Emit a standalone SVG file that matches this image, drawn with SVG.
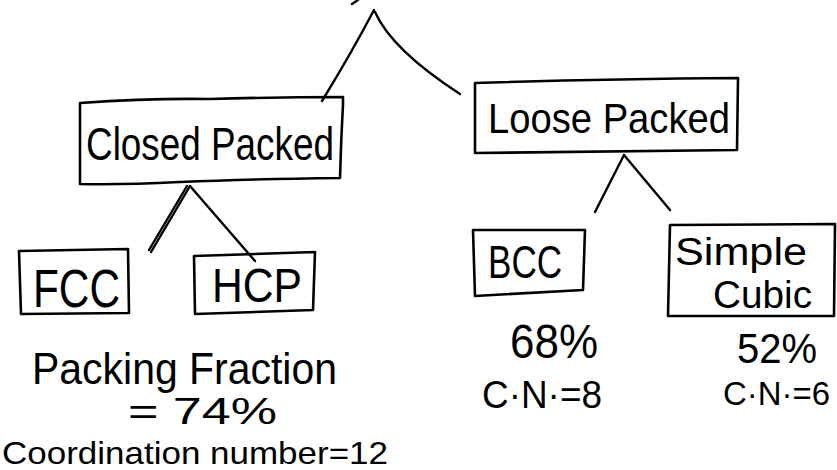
<svg xmlns="http://www.w3.org/2000/svg" width="837" height="470" viewBox="0 0 837 470">
<style>
.box{fill:none;stroke:#000;stroke-width:2.6;stroke-linejoin:round;stroke-linecap:round}
.ln{fill:none;stroke:#000;stroke-width:2.4;stroke-linecap:round}
.t{font-family:"Liberation Sans","DejaVu Sans",sans-serif;fill:#000}
</style>
<rect width="837" height="470" fill="#fff"/>
<g id="connectors">
<path class="ln" d="M352,4 L358,0"/>
<path class="ln" d="M374,10 Q352,52 322,101"/>
<path class="ln" d="M375,12 Q392,50 460,94"/>
<path class="ln" d="M190,186 L151,252"/>
<path class="ln" d="M187,186 L149,250"/>
<path class="ln" d="M190,186 L255,261"/>
<path class="ln" d="M624,155 L595,212"/>
<path class="ln" d="M624,155 L670,210"/>
</g>
<g id="closed-packed">
<path class="box" d="M80,103 Q150,98 210,99 Q280,97 343,97 L343,104 Q341,140 340,178 Q250,179 180,182 Q120,185 80,184 Z"/>
<text class="t" x="86" y="160" font-size="46" textLength="248" lengthAdjust="spacingAndGlyphs">Closed Packed</text>
</g>
<g id="loose-packed">
<path class="box" d="M475,83 Q600,79 738,78 L737,150 Q600,151 475,153 Z"/>
<text class="t" x="488" y="133" font-size="42" textLength="242" lengthAdjust="spacingAndGlyphs">Loose Packed</text>
</g>
<g id="fcc">
<path class="box" d="M19,251 L128,249 L129,313 L21,314 Z"/>
<text class="t" x="33" y="307" font-size="54" textLength="87" lengthAdjust="spacingAndGlyphs">FCC</text>
</g>
<g id="hcp">
<path class="box" d="M194,256 L315,252 L313,310 L195,314 Z"/>
<text class="t" x="212" y="302" font-size="48" textLength="90" lengthAdjust="spacingAndGlyphs">HCP</text>
</g>
<g id="bcc">
<path class="box" d="M473,230 L585,230 L583,290 L475,296 Z"/>
<text class="t" x="488" y="278" font-size="46" textLength="74" lengthAdjust="spacingAndGlyphs">BCC</text>
</g>
<g id="simple-cubic">
<path class="box" d="M670,225 L835,224 L834,316 L668,316 Z"/>
<text class="t" x="675" y="265" font-size="38" textLength="132" lengthAdjust="spacingAndGlyphs">Simple</text>
<text class="t" x="713" y="308" font-size="38" textLength="99" lengthAdjust="spacingAndGlyphs">Cubic</text>
</g>
<g id="closed-packed-info">
<text class="t" x="32" y="384" font-size="44" textLength="305" lengthAdjust="spacingAndGlyphs">Packing Fraction</text>
<text class="t" x="128" y="424" font-size="36" textLength="149" lengthAdjust="spacingAndGlyphs">= 74%</text>
<text class="t" x="2" y="464" font-size="32" textLength="386" lengthAdjust="spacingAndGlyphs">Coordination number=12</text>
</g>
<g id="bcc-info">
<text class="t" x="510" y="358" font-size="48" textLength="88" lengthAdjust="spacingAndGlyphs">68%</text>
<text class="t" x="482" y="408" font-size="38" textLength="120" lengthAdjust="spacingAndGlyphs">C·N·=8</text>
</g>
<g id="simple-cubic-info">
<text class="t" x="737" y="363" font-size="42" textLength="80" lengthAdjust="spacingAndGlyphs">52%</text>
<text class="t" x="723" y="405" font-size="34" textLength="107" lengthAdjust="spacingAndGlyphs">C·N·=6</text>
</g>
</svg>
